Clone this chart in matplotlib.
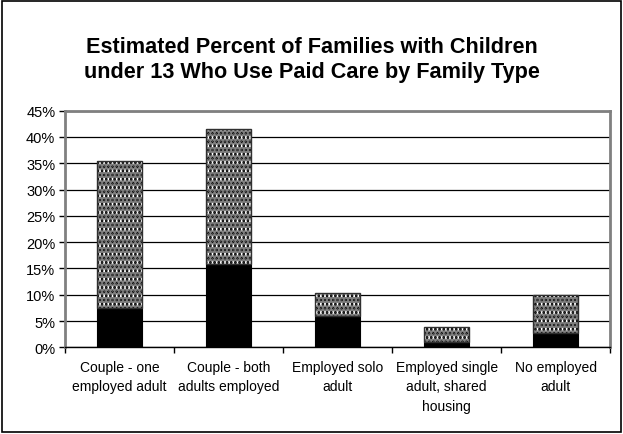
import matplotlib
matplotlib.use("Agg")
import matplotlib.pyplot as plt
from matplotlib.patches import Rectangle
import numpy as np

plt.rcParams['font.family'] = ['Liberation Sans', 'DejaVu Sans']
plt.rcParams['hatch.linewidth'] = 1.3

categories = ["Couple - one\nemployed adult", "Couple - both\nadults employed",
              "Employed solo\nadult", "Employed single\nadult, shared\nhousing",
              "No employed\nadult"]
# bottom (solid black) and top (patterned) segments, percent
black_part = [7.4, 15.8, 5.9, 1.1, 2.7]
pattern_part = [28.1, 25.7, 4.4, 2.7, 7.3]
yticks = [0, 5, 10, 15, 20, 25, 30, 35, 40, 45]

fig = plt.figure(figsize=(6.23, 4.35), dpi=100)
ax = fig.add_axes([0.1043, 0.1993, 0.875, 0.5441])

x = np.arange(len(categories))
w = 0.41
ax.bar(x, black_part, w, color="black", edgecolor="black", linewidth=0.8, zorder=3)
# patterned segment: grey grid, black dots, dark outline
ax.bar(x, pattern_part, w, bottom=black_part, color="white", edgecolor="#808080",
       hatch="++++", linewidth=0, zorder=3)
ax.bar(x, pattern_part, w, bottom=black_part, color="none", edgecolor="black",
       hatch="....", linewidth=0, zorder=4)
ax.bar(x, pattern_part, w, bottom=black_part, color="none", edgecolor="#303030",
       linewidth=1.0, zorder=5)

ax.set_xlim(-0.5, len(categories) - 0.5)
ax.set_ylim(0, 45)
ax.set_yticks(yticks)
ax.set_yticklabels([f"{v}%" for v in yticks], fontsize=10.5)
ax.yaxis.grid(True, color="black", linewidth=0.9)
ax.set_axisbelow(True)

ax.set_xticks(np.arange(len(categories) + 1) - 0.5)
ax.set_xticklabels([])
ax.set_xticks(x, minor=True)
ax.set_xticklabels(categories, minor=True, fontsize=10, va="top", linespacing=1.5)
ax.tick_params(axis="x", which="minor", length=0, pad=9)
ax.tick_params(axis="x", which="major", length=4, width=1, direction="out")
ax.tick_params(axis="y", length=4, width=1, direction="out", pad=3)

for s in ["top", "right", "left"]:
    ax.spines[s].set_color("#808080")
    ax.spines[s].set_linewidth(2)
ax.spines["bottom"].set_color("black")
ax.spines["bottom"].set_linewidth(1)

fig.text(0.5, 0.862, "Estimated Percent of Families with Children\nunder 13 Who Use Paid Care by Family Type",
         ha="center", va="center", fontsize=15.6, fontweight="bold", linespacing=1.2)

fig.patches.append(Rectangle((0.004, 0.005), 0.992, 0.99, transform=fig.transFigure,
                             fill=False, edgecolor="black", linewidth=1.2))

fig.savefig("out.png", dpi=100)
